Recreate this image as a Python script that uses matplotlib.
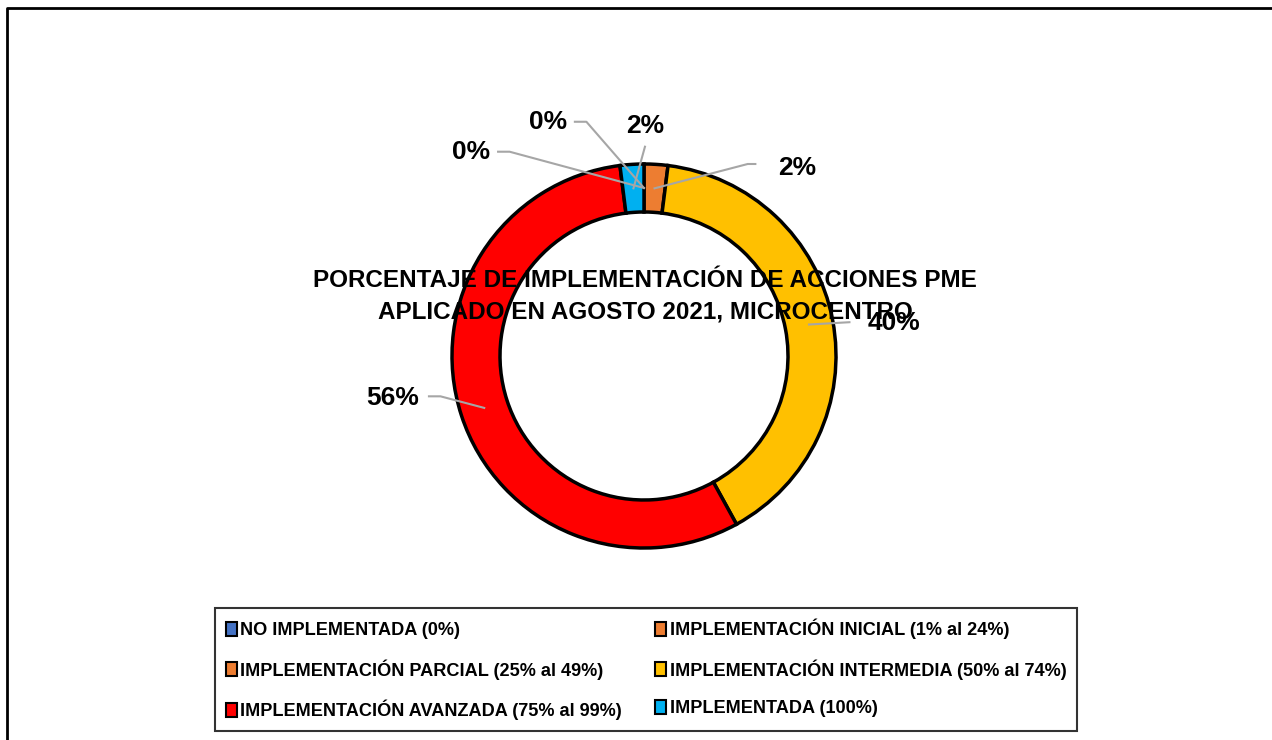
import numpy as np
import matplotlib.pyplot as plt
from matplotlib.patches import Patch

plt.rcParams['font.family'] = ['Liberation Sans', 'DejaVu Sans']
plt.rcParams['font.weight'] = 'bold'

# Datos del grafico
categorias = [
    "NO IMPLEMENTADA (0%)",
    "IMPLEMENTACIÓN INICIAL (1% al 24%)",
    "IMPLEMENTACIÓN PARCIAL (25% al 49%)",
    "IMPLEMENTACIÓN INTERMEDIA (50% al 74%)",
    "IMPLEMENTACIÓN AVANZADA (75% al 99%)",
    "IMPLEMENTADA (100%)",
]
porcentajes = [0, 0, 2, 40, 56, 2]
colores = ["#4472C4", "#ED7D31", "#ED7D31", "#FFC000", "#FF0000", "#00B0F0"]
titulo = "PORCENTAJE DE IMPLEMENTACIÓN DE ACCIONES PME\nAPLICADO EN AGOSTO 2021, MICROCENTRO"

# posicion de cada etiqueta (texto) y codo de la linea guia, en unidades del radio
pos_texto = [(-0.50, 1.22), (-0.90, 1.06), (0.80, 0.98), (1.30, 0.17), (-1.31, -0.22), (0.005, 1.20)]
codo = [[(-0.36, 1.22), (-0.30, 1.22)],
        [(-0.76, 1.064), (-0.70, 1.064)],
        [(0.58, 1.00), (0.54, 1.00)],
        [(1.07, 0.176)],
        [(-1.12, -0.21), (-1.06, -0.21)],
        [(0.005, 1.09)]]

W, H = 1272, 740
fig = plt.figure(figsize=(W / 100, H / 100), dpi=100)

# marco del area del grafico
marco = fig.add_axes([0, 0, 1, 1])
marco.set_xlim(0, W)
marco.set_ylim(H, 0)
marco.axis('off')
marco.plot([6.5, 6.5, W + 5], [H + 5, 7.5, 7.5], color='black', lw=2)

cx, cy, r = 644, 356, 192
ax = fig.add_axes([(cx - r) / W, (H - cy - r) / H, 2 * r / W, 2 * r / H])
wedges, _ = ax.pie(porcentajes, colors=colores, startangle=90, counterclock=False,
                   radius=1, wedgeprops=dict(width=0.25, edgecolor='black', linewidth=2.5))
ax.set_xlim(-1, 1)
ax.set_ylim(-1, 1)
ax.axis('off')

for i, w in enumerate(wedges):
    ang = np.deg2rad((w.theta1 + w.theta2) / 2)
    ancla = (0.875 * np.cos(ang), 0.875 * np.sin(ang))
    pts = [ancla] + codo[i][::-1]
    xs, ys = zip(*pts)
    ax.plot(xs, ys, color='#A6A6A6', lw=1.5, clip_on=False, zorder=3)
    ax.text(pos_texto[i][0], pos_texto[i][1], f"{porcentajes[i]}%", ha='center', va='center',
            fontsize=19, fontweight='bold', color='black', zorder=4)

fig.text(645 / W, 1 - 296 / H, titulo, ha='center', va='center', fontsize=17.5,
         fontweight='bold', linespacing=1.45, zorder=5)

# leyenda por filas: se reordena para el llenado por columnas
orden = [0, 2, 4, 1, 3, 5]
handles = [Patch(facecolor=colores[i], edgecolor='black', linewidth=1.5) for i in orden]
leg = fig.legend(handles, [categorias[i] for i in orden], ncol=2,
                 loc='lower left', bbox_to_anchor=(215 / W, 1 - 731 / H),
                 fontsize=13.1, frameon=True, fancybox=False, edgecolor='black',
                 handlelength=0.6, handleheight=0.8, handletextpad=0.2, labelspacing=1.1,
                 columnspacing=1.8, borderaxespad=0, borderpad=0.6)
leg.get_frame().set_linewidth(1.5)

fig.savefig('out.png', dpi=100)
